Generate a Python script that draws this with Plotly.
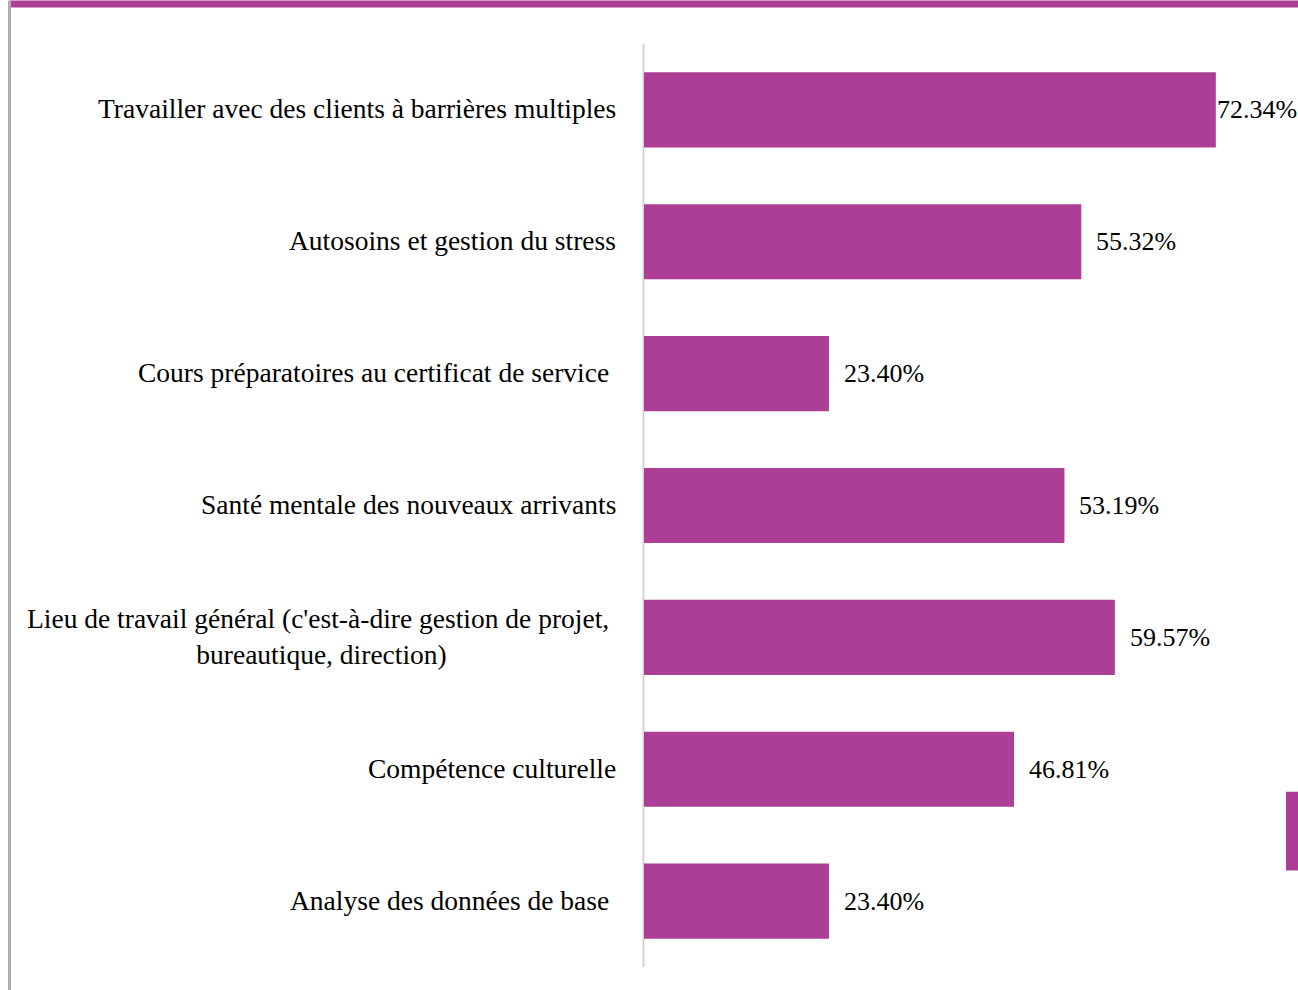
import plotly.graph_objects as go

categories = [
    "Travailler avec des clients à barrières multiples",
    "Autosoins et gestion du stress",
    "Cours préparatoires au certificat de service ",
    "Santé mentale des nouveaux arrivants",
    "Lieu de travail général (c'est-à-dire gestion de projet, <br>bureautique, direction)",
    "Compétence culturelle",
    "Analyse des données de base ",
]
values = [72.34, 55.32, 23.40, 53.19, 59.57, 46.81, 23.40]
value_labels = ["72.34%", "55.32%", "23.40%", "53.19%", "59.57%", "46.81%", "23.40%"]

PURPLE = "#AC3E95"
FONT = "Liberation Serif"
W, H = 1298, 990
L, R, T, B = 644, 7, 43.5, 22.5

fig = go.Figure(go.Bar(
    x=values, y=categories, orientation="h",
    marker=dict(color=PURPLE, line=dict(width=0)),
    width=0.57, hoverinfo="skip",
))

ann = []
for cat, v, lab in zip(categories, values, value_labels):
    ann.append(dict(
        x=0, y=cat, xref="x", yref="y", text=cat,
        xanchor="right", yanchor="middle", xshift=-26, yshift=1,
        showarrow=False, align="center",
        font=dict(family=FONT, size=27.5, color="black"),
    ))
    shift = 13 if v < 70 else -1
    ann.append(dict(
        x=v, y=cat, xref="x", yref="y", text=lab, xanchor="left", yanchor="middle",
        xshift=shift, showarrow=False,
        font=dict(family=FONT, size=26, color="black"),
    ))

pw = W - L - R
ph = H - T - B
def px_x(p):
    return (p - L) / pw
def px_y(p):
    return 1 - (p - T) / ph

shapes = [
    dict(type="rect", xref="paper", yref="paper", x0=px_x(10), x1=px_x(W + 5),
         y0=px_y(0), y1=px_y(7), fillcolor=PURPLE, line=dict(width=0), layer="above"),
    dict(type="rect", xref="paper", yref="paper", x0=px_x(8), x1=px_x(11),
         y0=px_y(0), y1=px_y(H + 5), fillcolor="#ADADAD", line=dict(width=0)),
    dict(type="rect", xref="paper", yref="paper", x0=px_x(1286), x1=px_x(W + 5),
         y0=px_y(792), y1=px_y(871), fillcolor=PURPLE, line=dict(width=0)),
    dict(type="rect", xref="paper", yref="paper", x0=px_x(642.5), x1=px_x(644.5),
         y0=0, y1=1, fillcolor="#D4D4D4", line=dict(width=0), layer="below"),
]

fig.update_layout(
    width=W, height=H,
    margin=dict(l=L, r=R, t=T, b=B, pad=0),
    paper_bgcolor="white", plot_bgcolor="white",
    showlegend=False,
    xaxis=dict(range=[0, 81.85], showgrid=False, zeroline=False, showticklabels=False,
               showline=False, ticks="", fixedrange=True),
    yaxis=dict(autorange="reversed", showgrid=False, zeroline=False,
               showticklabels=False, ticks="", showline=False, fixedrange=True),
    annotations=ann,
    shapes=shapes,
)

fig.write_html("out.html")
